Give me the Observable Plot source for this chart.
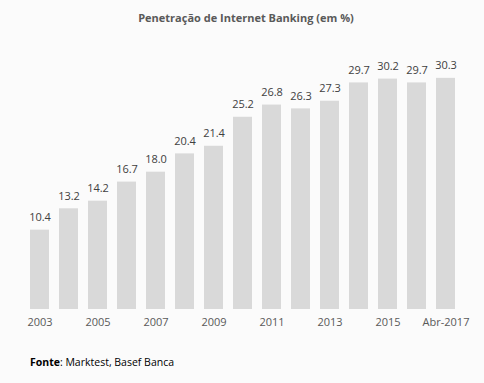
<!DOCTYPE html>
<html>
<head>
<meta charset="utf-8">
<script src="https://cdn.jsdelivr.net/npm/d3@7"></script>
<script src="https://cdn.jsdelivr.net/npm/@observablehq/plot@0.6"></script>
<style>
  html, body { margin: 0; padding: 0; background: #fbfbfb; }
  body { width: 484px; height: 383px; font-family: "Open Sans", sans-serif; }
  #title { height: 36px; line-height: 36px; text-align: center; font-size: 11px; font-weight: bold; color: #595959; padding-left: 8px; }
  #caption { font-size: 10.5px; color: #000; padding-left: 30px; margin-top: 15px; }
</style>
</head>
<body>
<div id="title">Penetração de Internet Banking (em %)</div>
<div id="chart"></div>
<div id="caption"><b>Fonte</b>: Marktest, Basef Banca</div>
<script>
const categories = ["2003","2004","2005","2006","2007","2008","2009","2010","2011","2012","2013","2014","2015","2016","Abr-2017"];
const values = [10.4, 13.2, 14.2, 16.7, 18.0, 20.4, 21.4, 25.2, 26.8, 26.3, 27.3, 29.7, 30.2, 29.7, 30.3];
const tickLabels = ["2003","2005","2007","2009","2011","2013","2015","Abr-2017"];

const data = categories.map((c, i) => ({cat: c, value: values[i]}));

const chart = Plot.plot({
  width: 484,
  height: 304,
  marginTop: 6,
  marginBottom: 31,
  marginLeft: 15.7,
  marginRight: 15.5,
  style: {fontFamily: "'Open Sans', sans-serif", fontSize: "11px", background: "transparent"},
  x: {domain: categories, padding: 0.35, label: null},
  y: {domain: [0, 35], axis: null},
  marks: [
    Plot.barY(data, {x: "cat", y: "value", fill: "#d9d9d9"}),
    Plot.text(data, {x: "cat", y: "value", text: d => d3.format(".1f")(d.value), dy: -9, lineAnchor: "bottom", fill: "#404040", fontSize: 11}),
    Plot.axisX({ticks: tickLabels, tickSize: 0, tickPadding: 9, label: null, fill: "#595959", fontSize: 11})
  ]
});
document.getElementById("chart").appendChild(chart);
</script>
</body>
</html>
